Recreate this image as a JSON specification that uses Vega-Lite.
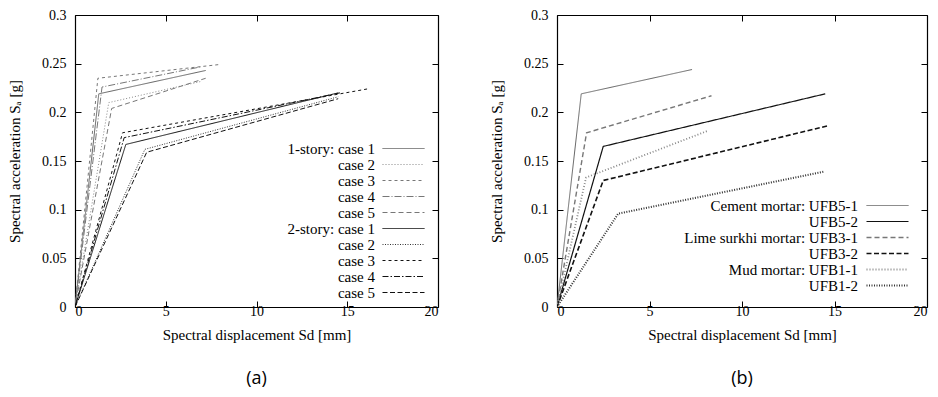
{
  "$schema": "https://vega.github.io/schema/vega-lite/v6.json",
  "background": "white",
  "padding": {"left": 7, "top": 8, "right": 5, "bottom": 5},
  "spacing": 50,
  "config": {
    "view": {"stroke": null},
    "axis": {"labelFont": "Liberation Serif", "labelFontSize": 14, "labelColor": "#000", "titleFont": "Liberation Serif", "titleFontSize": 15, "titleFontWeight": "normal", "titleColor": "#000", "domainColor": "#000", "tickColor": "#000", "grid": false, "tickSize": -6, "domainWidth": 1.2, "format": "~g"},
    "legend": {"labelFont": "Liberation Serif", "labelFontSize": 15, "labelColor": "#000"},
    "title": {"font": "Open Sans", "fontSize": 18, "fontWeight": "normal", "color": "#000"}
  },
  "hconcat": [
    {
      "width": 363,
      "height": 292,
      "title": {"text": "(a)", "orient": "bottom", "anchor": "middle", "offset": 28},
      "data": {"values": [
        {"s": "1-story: case 1", "i": 0, "x": 0, "y": 0},
        {"s": "1-story: case 1", "i": 1, "x": 1.31, "y": 0.219},
        {"s": "1-story: case 1", "i": 2, "x": 7.2, "y": 0.243},
        {"s": "1-story: case 2", "i": 0, "x": 0, "y": 0},
        {"s": "1-story: case 2", "i": 1, "x": 1.86, "y": 0.21},
        {"s": "1-story: case 2", "i": 2, "x": 7.0, "y": 0.232},
        {"s": "1-story: case 3", "i": 0, "x": 0, "y": 0},
        {"s": "1-story: case 3", "i": 1, "x": 1.26, "y": 0.235},
        {"s": "1-story: case 3", "i": 2, "x": 7.9, "y": 0.249},
        {"s": "1-story: case 4", "i": 0, "x": 0, "y": 0},
        {"s": "1-story: case 4", "i": 1, "x": 1.49, "y": 0.226},
        {"s": "1-story: case 4", "i": 2, "x": 7.0, "y": 0.247},
        {"s": "1-story: case 5", "i": 0, "x": 0, "y": 0},
        {"s": "1-story: case 5", "i": 1, "x": 2.02, "y": 0.204},
        {"s": "1-story: case 5", "i": 2, "x": 7.2, "y": 0.235},
        {"s": "2-story: case 1", "i": 0, "x": 0, "y": 0},
        {"s": "2-story: case 1", "i": 1, "x": 2.8, "y": 0.167},
        {"s": "2-story: case 1", "i": 2, "x": 14.5, "y": 0.22},
        {"s": "2-story: case 2", "i": 0, "x": 0, "y": 0},
        {"s": "2-story: case 2", "i": 1, "x": 3.85, "y": 0.162},
        {"s": "2-story: case 2", "i": 2, "x": 14.5, "y": 0.216},
        {"s": "2-story: case 3", "i": 0, "x": 0, "y": 0},
        {"s": "2-story: case 3", "i": 1, "x": 2.62, "y": 0.179},
        {"s": "2-story: case 3", "i": 2, "x": 16.1, "y": 0.224},
        {"s": "2-story: case 4", "i": 0, "x": 0, "y": 0},
        {"s": "2-story: case 4", "i": 1, "x": 2.71, "y": 0.174},
        {"s": "2-story: case 4", "i": 2, "x": 14.6, "y": 0.22},
        {"s": "2-story: case 5", "i": 0, "x": 0, "y": 0},
        {"s": "2-story: case 5", "i": 1, "x": 3.95, "y": 0.159},
        {"s": "2-story: case 5", "i": 2, "x": 14.5, "y": 0.214}
      ]},
      "layer": [
        {
          "mark": {"type": "line", "clip": true},
          "encoding": {
            "x": {"field": "x", "type": "quantitative", "scale": {"domain": [0, 20], "nice": false}, "axis": {"orient": "bottom", "values": [0, 5, 10, 15, 20], "title": "Spectral displacement Sd [mm]", "labelPadding": 3, "titlePadding": 9}},
            "y": {"field": "y", "type": "quantitative", "scale": {"domain": [0, 0.3], "nice": false}, "axis": {"orient": "left", "values": [0, 0.05, 0.1, 0.15, 0.2, 0.25, 0.3], "title": "Spectral acceleration Sₐ [g]", "labelPadding": 15, "titlePadding": 19}},
            "order": {"field": "i", "type": "quantitative"},
            "color": {"field": "s", "type": "nominal",
              "scale": {"domain": ["1-story: case 1", "1-story: case 2", "1-story: case 3", "1-story: case 4", "1-story: case 5", "2-story: case 1", "2-story: case 2", "2-story: case 3", "2-story: case 4", "2-story: case 5"],
                "range": ["#666", "#888", "#777", "#777", "#777", "#111", "#333", "#111", "#111", "#111"]},
              "legend": {"title": null, "orient": "none", "legendX": 321, "legendY": 126, "symbolType": "M-4.2,0H4.2", "symbolSize": 100, "labelAlign": "right", "labelOffset": -36, "rowPadding": 0, "labelLimit": 0,
                "labelExpr": "indexof(datum.label, 'case 1') >= 0 ? datum.label : substring(datum.label, 9)"}},
            "strokeDash": {"field": "s", "type": "nominal",
              "scale": {"domain": ["1-story: case 1", "1-story: case 2", "1-story: case 3", "1-story: case 4", "1-story: case 5", "2-story: case 1", "2-story: case 2", "2-story: case 3", "2-story: case 4", "2-story: case 5"],
                "range": [[1, 0], [1, 2], [3, 3], [7, 2, 1, 2], [5, 3], [1, 0], [1, 1.5], [3, 3], [6, 2, 1.5, 2], [5, 2.5]]},
              "legend": {"title": null, "orient": "none", "legendX": 321, "legendY": 126, "symbolType": "M-4.2,0H4.2", "symbolSize": 100, "labelAlign": "right", "labelOffset": -36, "rowPadding": 0, "labelLimit": 0,
                "labelExpr": "indexof(datum.label, 'case 1') >= 0 ? datum.label : substring(datum.label, 9)"}},
            "strokeWidth": {"field": "s", "type": "nominal",
              "scale": {"domain": ["1-story: case 1", "1-story: case 2", "1-story: case 3", "1-story: case 4", "1-story: case 5", "2-story: case 1", "2-story: case 2", "2-story: case 3", "2-story: case 4", "2-story: case 5"],
                "range": [1, 1, 1, 1, 1, 2, 1.5, 1.5, 1.5, 1.5]},
              "legend": {"title": null, "orient": "none", "legendX": 321, "legendY": 126, "symbolType": "M-4.2,0H4.2", "symbolSize": 100, "labelAlign": "right", "labelOffset": -36, "rowPadding": 0, "labelLimit": 0,
                "labelExpr": "indexof(datum.label, 'case 1') >= 0 ? datum.label : substring(datum.label, 9)"}}
          }
        },
        {
          "mark": {"type": "point", "opacity": 0},
          "encoding": {
            "x": {"field": "x", "type": "quantitative", "axis": {"orient": "top", "values": [0, 5, 10, 15, 20], "labels": false, "title": null}},
            "y": {"field": "y", "type": "quantitative", "axis": {"orient": "right", "values": [0, 0.05, 0.1, 0.15, 0.2, 0.25, 0.3], "labels": false, "title": null}}
          }
        }
      ]
    },
    {
      "width": 370,
      "height": 292,
      "title": {"text": "(b)", "orient": "bottom", "anchor": "middle", "offset": 28},
      "data": {"values": [
        {"s": "Cement mortar: UFB5-1", "i": 0, "x": 0, "y": 0},
        {"s": "Cement mortar: UFB5-1", "i": 1, "x": 1.31, "y": 0.219},
        {"s": "Cement mortar: UFB5-1", "i": 2, "x": 7.3, "y": 0.244},
        {"s": "Cement mortar: UFB5-2", "i": 0, "x": 0, "y": 0},
        {"s": "Cement mortar: UFB5-2", "i": 1, "x": 2.5, "y": 0.165},
        {"s": "Cement mortar: UFB5-2", "i": 2, "x": 14.5, "y": 0.219},
        {"s": "Lime surkhi mortar: UFB3-1", "i": 0, "x": 0, "y": 0},
        {"s": "Lime surkhi mortar: UFB3-1", "i": 1, "x": 1.6, "y": 0.179},
        {"s": "Lime surkhi mortar: UFB3-1", "i": 2, "x": 8.35, "y": 0.217},
        {"s": "Lime surkhi mortar: UFB3-2", "i": 0, "x": 0, "y": 0},
        {"s": "Lime surkhi mortar: UFB3-2", "i": 1, "x": 2.5, "y": 0.13},
        {"s": "Lime surkhi mortar: UFB3-2", "i": 2, "x": 14.6, "y": 0.186},
        {"s": "Mud mortar: UFB1-1", "i": 0, "x": 0, "y": 0},
        {"s": "Mud mortar: UFB1-1", "i": 1, "x": 1.57, "y": 0.133},
        {"s": "Mud mortar: UFB1-1", "i": 2, "x": 8.15, "y": 0.181},
        {"s": "Mud mortar: UFB1-2", "i": 0, "x": 0, "y": 0},
        {"s": "Mud mortar: UFB1-2", "i": 1, "x": 3.31, "y": 0.096},
        {"s": "Mud mortar: UFB1-2", "i": 2, "x": 14.4, "y": 0.139}
      ]},
      "layer": [
        {
          "mark": {"type": "line", "clip": true},
          "encoding": {
            "x": {"field": "x", "type": "quantitative", "scale": {"domain": [0, 20], "nice": false}, "axis": {"orient": "bottom", "values": [0, 5, 10, 15, 20], "title": "Spectral displacement Sd [mm]", "labelPadding": 3, "titlePadding": 9}},
            "y": {"field": "y", "type": "quantitative", "scale": {"domain": [0, 0.3], "nice": false}, "axis": {"orient": "left", "values": [0, 0.05, 0.1, 0.15, 0.2, 0.25, 0.3], "title": "Spectral acceleration Sₐ [g]", "labelPadding": 15, "titlePadding": 19}},
            "order": {"field": "i", "type": "quantitative"},
            "color": {"field": "s", "type": "nominal",
              "scale": {"domain": ["Cement mortar: UFB5-1", "Cement mortar: UFB5-2", "Lime surkhi mortar: UFB3-1", "Lime surkhi mortar: UFB3-2", "Mud mortar: UFB1-1", "Mud mortar: UFB1-2"],
                "range": ["#666", "#111", "#777", "#111", "#888", "#333"]},
              "legend": {"title": null, "orient": "none", "legendX": 323, "legendY": 183, "symbolType": "M-4.2,0H4.2", "symbolSize": 100, "labelAlign": "right", "labelOffset": -37, "rowPadding": 0, "labelLimit": 0,
                "labelExpr": "test(/-1$/, datum.label) ? datum.label : split(datum.label, ': ')[1]"}},
            "strokeDash": {"field": "s", "type": "nominal",
              "scale": {"domain": ["Cement mortar: UFB5-1", "Cement mortar: UFB5-2", "Lime surkhi mortar: UFB3-1", "Lime surkhi mortar: UFB3-2", "Mud mortar: UFB1-1", "Mud mortar: UFB1-2"],
                "range": [[1, 0], [1, 0], [5, 3], [5, 2.5], [1, 2], [1, 1.5]]},
              "legend": {"title": null, "orient": "none", "legendX": 323, "legendY": 183, "symbolType": "M-4.2,0H4.2", "symbolSize": 100, "labelAlign": "right", "labelOffset": -37, "rowPadding": 0, "labelLimit": 0,
                "labelExpr": "test(/-1$/, datum.label) ? datum.label : split(datum.label, ': ')[1]"}},
            "strokeWidth": {"field": "s", "type": "nominal",
              "scale": {"domain": ["Cement mortar: UFB5-1", "Cement mortar: UFB5-2", "Lime surkhi mortar: UFB3-1", "Lime surkhi mortar: UFB3-2", "Mud mortar: UFB1-1", "Mud mortar: UFB1-2"],
                "range": [1, 2, 1, 1.6, 1, 1.5]},
              "legend": {"title": null, "orient": "none", "legendX": 323, "legendY": 183, "symbolType": "M-4.2,0H4.2", "symbolSize": 100, "labelAlign": "right", "labelOffset": -37, "rowPadding": 0, "labelLimit": 0,
                "labelExpr": "test(/-1$/, datum.label) ? datum.label : split(datum.label, ': ')[1]"}}
          }
        },
        {
          "mark": {"type": "point", "opacity": 0},
          "encoding": {
            "x": {"field": "x", "type": "quantitative", "axis": {"orient": "top", "values": [0, 5, 10, 15, 20], "labels": false, "title": null}},
            "y": {"field": "y", "type": "quantitative", "axis": {"orient": "right", "values": [0, 0.05, 0.1, 0.15, 0.2, 0.25, 0.3], "labels": false, "title": null}}
          }
        }
      ]
    }
  ],
  "resolve": {"scale": {"color": "independent", "strokeDash": "independent", "strokeWidth": "independent"}, "legend": {"color": "independent", "strokeDash": "independent", "strokeWidth": "independent"}}
}
